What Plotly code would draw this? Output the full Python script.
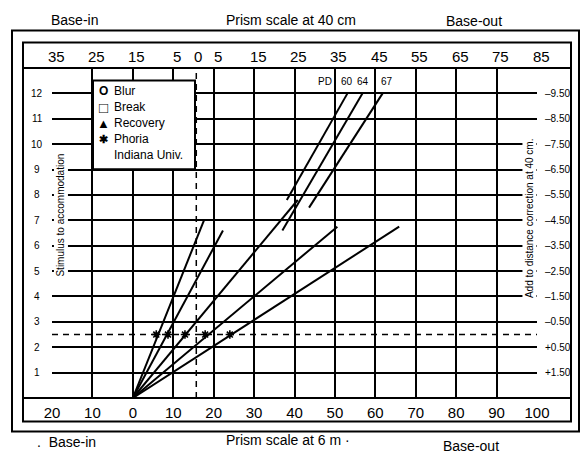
import plotly.graph_objects as go

# ---------------- data ----------------
# bottom scale: prism at 6 m (base-in negative, base-out positive)
x6_ticks = [-20, -10, 0, 10, 20, 30, 40, 50, 60, 70, 80, 90, 100]
x6_text = ["20", "10", "0", "10", "20", "30", "40", "50", "60", "70", "80", "90", "100"]
# top scale: prism at 40 cm (labels) and their 6 m equivalents
x40_text = ["35", "25", "15", "5", "0", "5", "15", "25", "35", "45", "55", "65", "75", "85"]
x40_pos = [-19, -9, 1, 11, 16, 21, 31, 41, 51, 61, 71, 81, 91, 101]
# stimulus to accommodation (D) and add to distance correction at 40 cm
stim_ticks = [1, 2, 3, 4, 5, 6, 7, 8, 9, 10, 11, 12]
add_text = ["+1.50", "+0.50", "–0.50", "–1.50", "–2.50", "–3.50", "–4.50",
            "–5.50", "–6.50", "–7.50", "–8.50", "–9.50"]
# near demand at 40 cm
near_prism = 15.7
near_stim = 2.5
# fan of lines from the origin (end points)
fan_end_prism = [17.6, 22.3, 40.8, 50.6, 65.9]
fan_end_stim = [7.0, 6.6, 7.8, 6.75, 6.75]
# PD lines
pd_labels = ["60", "64", "67"]
pd_lo_prism = [38.1, 37.0, 43.6]
pd_lo_stim = [7.8, 6.6, 7.5]
pd_hi_prism = [53.1, 56.8, 61.8]
pd_hi_stim = [12, 12, 12]
# phoria points on the 40 cm line
phoria_prism = [5.8, 8.7, 12.9, 17.9, 24.0]
phoria_stim = [2.5, 2.5, 2.5, 2.5, 2.5]

# ---------------- layout geometry (pixels) ----------------
W, H = 583, 454
L, R, T, B = 52, 537, 67.5, 398.5
XMIN, XMAX = -20, 100


def px(xp):
    return (xp - L) / (R - L)


def py(yp):
    return (B - yp) / (B - T)


def xdata_to_paper(v):
    return (v - XMIN) / (XMAX - XMIN)


FONT = "Liberation Sans, Arial, Helvetica, sans-serif"
BLK = "black"

fig = go.Figure()

# dashed near-demand lines
fig.add_trace(go.Scatter(x=[near_prism, near_prism], y=[0, 13], mode="lines",
                         line=dict(color=BLK, width=1.5, dash="6px,5px"),
                         showlegend=False, hoverinfo="skip"))
fig.add_trace(go.Scatter(x=[XMIN, XMAX], y=[near_stim, near_stim], mode="lines",
                         line=dict(color=BLK, width=1.5, dash="6px,5px"),
                         showlegend=False, hoverinfo="skip"))

# fan lines
for xe, ye in zip(fan_end_prism, fan_end_stim):
    fig.add_trace(go.Scatter(x=[0, xe], y=[0, ye], mode="lines",
                             line=dict(color=BLK, width=2),
                             showlegend=False, hoverinfo="skip"))
# PD lines
for lab, x0, y0, x1, y1 in zip(pd_labels, pd_lo_prism, pd_lo_stim, pd_hi_prism, pd_hi_stim):
    fig.add_trace(go.Scatter(x=[x0, x1], y=[y0, y1], mode="lines", name="PD " + lab,
                             line=dict(color=BLK, width=2),
                             showlegend=False, hoverinfo="skip"))

# phoria markers
fig.add_trace(go.Scatter(x=phoria_prism, y=phoria_stim, mode="markers", name="Phoria",
                         marker=dict(symbol="asterisk-open", size=7, color=BLK,
                                     line=dict(color=BLK, width=1.6)),
                         showlegend=False))

shapes = []
# outer and inner frames
shapes.append(dict(type="rect", xref="paper", yref="paper",
                   x0=px(12), x1=px(579), y0=py(432), y1=py(30),
                   line=dict(color=BLK, width=2)))
shapes.append(dict(type="rect", xref="paper", yref="paper",
                   x0=px(23), x1=px(571), y0=py(422), y1=py(42),
                   line=dict(color=BLK, width=2)))
# band separators
for yy in (T, B):
    shapes.append(dict(type="line", xref="paper", yref="paper",
                       x0=px(23), x1=px(571), y0=py(yy), y1=py(yy),
                       line=dict(color=BLK, width=2)))
# legend box
shapes.append(dict(type="rect", xref="paper", yref="paper", layer="above",
                   x0=px(93), x1=px(195), y0=py(169), y1=py(80),
                   fillcolor="white", line=dict(color=BLK, width=2)))

ann = []


def text(t, x, y, size, xref="paper", yref="paper", xanchor="center", **kw):
    d = dict(x=x, y=y, xref=xref, yref=yref, text=t, showarrow=False,
             xanchor=xanchor, yanchor="middle",
             font=dict(family=FONT, size=size, color=BLK))
    d.update(kw)
    ann.append(d)


# top tick labels (40 cm)
for t, p in zip(x40_text, x40_pos):
    text(t, xdata_to_paper(p), py(55.5), 15)
# left stimulus labels
for s in stim_ticks:
    text(str(s), px(37), s, 10, yref="y")
# right add labels
for s, t in zip(stim_ticks, add_text):
    text(t, px(543), s, 10, yref="y", xanchor="left")
# axis titles
text("Stimulus to accommodation", px(60.5), py(215), 10, textangle=-90,
     bgcolor="white", borderpad=1)
text("Add to distance correction at 40 cm.", px(529), py(218), 10, textangle=-90,
     bgcolor="white", borderpad=1)
# header / footer
for t, xx, yy in [("Base-in", 74, 19), ("Prism scale at 40 cm", 291, 19), ("Base-out", 474, 20),
                  (".  Base-in", 66, 443), ("Prism scale at 6 m ·", 288, 441), ("Base-out", 471, 447)]:
    text(t, px(xx), py(yy), 14)
# PD labels
for t, xx in [("PD", 325), ("60", 347), ("64", 363), ("67", 387)]:
    text(t, px(xx), py(81), 10)
# legend
leg_sym = ["<b>O</b>", "<b>□</b>", "<b>▲</b>", "<b>✱</b>"]
leg_sym_size = [12, 15, 13, 11]
leg_txt = ["Blur", "Break", "Recovery", "Phoria", "Indiana Univ."]
leg_y = [91, 107, 123, 139, 155]
for s, sz, yy in zip(leg_sym, leg_sym_size, leg_y):
    text(s, px(103), py(yy), sz)
for t, yy in zip(leg_txt, leg_y):
    text(t, px(112), py(yy), 12, xanchor="left")

fig.update_layout(
    width=W, height=H, margin=dict(l=L, r=W - R, t=T, b=H - B),
    paper_bgcolor="white", plot_bgcolor="white",
    shapes=shapes, annotations=ann, showlegend=False,
    xaxis=dict(range=[XMIN, XMAX], tickvals=x6_ticks, ticktext=x6_text, showgrid=True,
               gridcolor=BLK, gridwidth=2, zeroline=False, showline=False, ticks="",
               tickfont=dict(family=FONT, size=15, color=BLK), ticklabelstandoff=4),
    yaxis=dict(range=[0, 13], dtick=1, showgrid=True, gridcolor=BLK, gridwidth=2,
               zeroline=False, showline=False, showticklabels=False, ticks=""),
)

fig.write_html("out.html", config={"displayModeBar": False},
               post_script="document.body.style.margin='0px';")
